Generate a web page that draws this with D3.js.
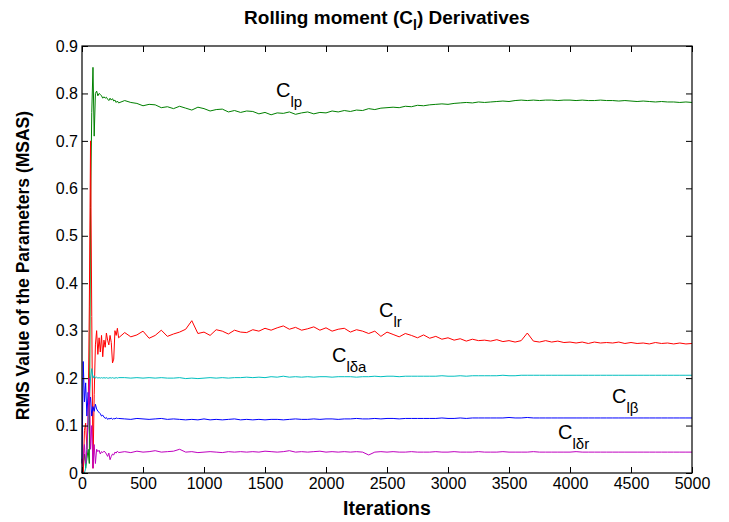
<!DOCTYPE html>
<html lang="en">
<head>
<meta charset="UTF-8">
<script src="https://d3js.org/d3.v7.min.js"></script>
<title>Rolling moment Derivatives</title>
<style>
    body { margin: 0; background: #fff; }
    svg text { font-family: "Liberation Sans", Arial, Helvetica, sans-serif; }
</style>
</head>
<body>
<svg id="chart" width="729" height="522"></svg>
<script>
// iterations: dense early part, then every 50
const iterEarly = d3.range(0, 301, 10);
const iterLate = d3.range(350, 5001, 50);

const clpEarly = [0.0, 0.02, 0.04, 0.01, 0.03, 0.05, 0.02, 0.56, 0.76, 0.855, 0.71, 0.80, 0.805, 0.795, 0.80, 0.798,
    0.795, 0.79, 0.793, 0.79, 0.792, 0.788, 0.785, 0.79, 0.786, 0.789, 0.784, 0.786, 0.781, 0.784, 0.78];
const clpLate = [
    0.785, 0.781, 0.779, 0.774, 0.777, 0.776, 0.770, 0.772, 0.768, 0.773,
    0.769, 0.765, 0.771, 0.768, 0.763, 0.766, 0.767, 0.761, 0.764, 0.760,
    0.763, 0.762, 0.757, 0.760, 0.755, 0.759, 0.758, 0.761, 0.756, 0.759,
    0.761, 0.757, 0.760, 0.759, 0.763, 0.761, 0.764, 0.762, 0.765, 0.764,
    0.768, 0.766, 0.769, 0.770, 0.771, 0.770, 0.773, 0.772, 0.775, 0.774,
    0.776, 0.777, 0.778, 0.777, 0.779, 0.780, 0.781, 0.780, 0.782, 0.781,
    0.782, 0.783, 0.784, 0.783, 0.785, 0.786, 0.785, 0.786, 0.785, 0.786,
    0.786, 0.785, 0.786, 0.786, 0.785, 0.786, 0.785, 0.785, 0.786, 0.785,
    0.785, 0.784, 0.785, 0.784, 0.783, 0.784, 0.783, 0.782, 0.783, 0.782,
    0.782, 0.781, 0.782, 0.781];

const clrEarly = [0.03, 0.0, 0.09, 0.105, 0.05, 0.11, 0.35, 0.70, 0.33, 0.01, 0.165, 0.27, 0.30, 0.25, 0.285, 0.255,
    0.29, 0.245, 0.28, 0.265, 0.295, 0.28, 0.27, 0.29, 0.275, 0.232, 0.24, 0.30, 0.29, 0.305, 0.285];
const clrLate = [
    0.296, 0.287, 0.291, 0.299, 0.284, 0.290, 0.301, 0.288, 0.293, 0.297,
    0.303, 0.321, 0.294, 0.297, 0.290, 0.302, 0.299, 0.293, 0.301, 0.297,
    0.296, 0.302, 0.299, 0.305, 0.301, 0.306, 0.310, 0.303, 0.307, 0.301,
    0.304, 0.308, 0.301, 0.306, 0.299, 0.303, 0.305, 0.297, 0.302, 0.299,
    0.294, 0.299, 0.288, 0.297, 0.292, 0.287, 0.294, 0.290, 0.285, 0.291,
    0.284, 0.288, 0.282, 0.285, 0.280, 0.283, 0.278, 0.282, 0.279, 0.280,
    0.278, 0.281, 0.277, 0.279, 0.276, 0.279, 0.295, 0.278, 0.276, 0.279,
    0.276, 0.278, 0.275, 0.276, 0.274, 0.276, 0.273, 0.276, 0.274, 0.275,
    0.274, 0.276, 0.273, 0.275, 0.273, 0.274, 0.272, 0.275, 0.273, 0.274,
    0.272, 0.274, 0.272, 0.273];

const clDaEarly = [0.0, 0.0, 0.0, 0.01, 0.05, 0.10, 0.16, 0.20, 0.22, 0.20, 0.205, 0.20, 0.202, 0.20, 0.201, 0.20,
    0.201, 0.20, 0.201, 0.20, 0.201, 0.20, 0.20, 0.201, 0.20, 0.201, 0.20, 0.20, 0.201, 0.20, 0.201];
const clDaLate = [
    0.201, 0.200, 0.201, 0.200, 0.201, 0.200, 0.201, 0.200, 0.200, 0.201,
    0.199, 0.200, 0.199, 0.200, 0.201, 0.200, 0.201, 0.200, 0.201, 0.201,
    0.202, 0.201, 0.202, 0.201, 0.203, 0.202, 0.204, 0.202, 0.203, 0.202,
    0.203, 0.202, 0.203, 0.203, 0.202, 0.203, 0.203, 0.203, 0.202, 0.203,
    0.203, 0.204, 0.203, 0.204, 0.204, 0.203, 0.204, 0.204, 0.204, 0.204,
    0.204, 0.204, 0.205, 0.204, 0.204, 0.205, 0.204, 0.205, 0.205, 0.205,
    0.205, 0.205, 0.206, 0.205, 0.205, 0.206, 0.206, 0.206, 0.206, 0.206,
    0.206, 0.206, 0.206, 0.206, 0.206, 0.206, 0.206, 0.206, 0.206, 0.206,
    0.206, 0.206, 0.206, 0.206, 0.206, 0.206, 0.206, 0.206, 0.206, 0.206,
    0.206, 0.206, 0.206, 0.206];

const clbEarly = [0.02, 0.235, 0.15, 0.19, 0.12, 0.17, 0.145, 0.16, 0.12, 0.14, 0.13, 0.145, 0.135, 0.13, 0.128, 0.125,
    0.12, 0.122, 0.118, 0.115, 0.117, 0.113, 0.115, 0.114, 0.116, 0.113, 0.115, 0.114, 0.116, 0.115, 0.115];
const clbLate = [
    0.114, 0.113, 0.115, 0.114, 0.113, 0.114, 0.115, 0.113, 0.114, 0.113,
    0.112, 0.113, 0.112, 0.114, 0.112, 0.113, 0.112, 0.113, 0.114, 0.112,
    0.113, 0.112, 0.113, 0.112, 0.113, 0.113, 0.112, 0.113, 0.114, 0.113,
    0.113, 0.114, 0.113, 0.114, 0.114, 0.113, 0.114, 0.114, 0.115, 0.114,
    0.114, 0.115, 0.114, 0.115, 0.115, 0.114, 0.115, 0.115, 0.115, 0.115,
    0.115, 0.115, 0.116, 0.115, 0.115, 0.116, 0.115, 0.116, 0.116, 0.116,
    0.116, 0.116, 0.116, 0.117, 0.116, 0.116, 0.117, 0.116, 0.116, 0.116,
    0.116, 0.116, 0.116, 0.116, 0.116, 0.116, 0.116, 0.116, 0.116, 0.116,
    0.116, 0.116, 0.116, 0.116, 0.116, 0.116, 0.116, 0.116, 0.116, 0.116,
    0.116, 0.116, 0.116, 0.116];

const clDrEarly = [0.0, 0.03, 0.06, 0.02, 0.05, 0.12, 0.20, 0.05, 0.10, 0.01, 0.06, 0.02, 0.05, 0.045, 0.048, 0.04,
    0.045, 0.043, 0.046, 0.044, 0.04, 0.035, 0.042, 0.028, 0.035, 0.04, 0.038, 0.044, 0.042, 0.046, 0.043];
const clDrLate = [
    0.045, 0.043, 0.046, 0.044, 0.045, 0.047, 0.044, 0.045, 0.046, 0.050,
    0.044, 0.045, 0.043, 0.044, 0.045, 0.044, 0.043, 0.045, 0.044, 0.045,
    0.044, 0.045, 0.044, 0.046, 0.045, 0.044, 0.045, 0.047, 0.044, 0.045,
    0.044, 0.045, 0.046, 0.044, 0.045, 0.044, 0.045, 0.044, 0.045, 0.044,
    0.038, 0.044, 0.045, 0.044, 0.045, 0.044, 0.044, 0.045, 0.044, 0.044,
    0.044, 0.045, 0.044, 0.044, 0.045, 0.044, 0.044, 0.044, 0.045, 0.044,
    0.044, 0.044, 0.045, 0.044, 0.044, 0.044, 0.044, 0.045, 0.044, 0.044,
    0.044, 0.044, 0.044, 0.044, 0.045, 0.044, 0.044, 0.044, 0.044, 0.044,
    0.044, 0.044, 0.044, 0.044, 0.044, 0.044, 0.044, 0.044, 0.044, 0.044,
    0.044, 0.044, 0.044, 0.044];

const xTicks = [0, 500, 1000, 1500, 2000, 2500, 3000, 3500, 4000, 4500, 5000];
const yTicks = [0, 0.1, 0.2, 0.3, 0.4, 0.5, 0.6, 0.7, 0.8, 0.9];

const series = [
    { name: "lp", color: "#008000", early: clpEarly, late: clpLate, lx: 1590, ly: 0.7925 },
    { name: "lr", color: "#ff0000", early: clrEarly, late: clrLate, lx: 2434, ly: 0.3288 },
    { name: "lδa", color: "#00bfbf", early: clDaEarly, late: clDaLate, lx: 2049, ly: 0.234 },
    { name: "lβ", color: "#0000ff", early: clbEarly, late: clbLate, lx: 4344, ly: 0.1475 },
    { name: "lδr", color: "#bf00bf", early: clDrEarly, late: clDrLate, lx: 3902, ly: 0.0717 }
];

const svg = d3.select("#chart");
const margin = { top: 46, right: 37, bottom: 49, left: 82 };
const width = +svg.attr("width") - margin.left - margin.right,
    height = +svg.attr("height") - margin.top - margin.bottom;

const g = svg.append("g").attr("transform", `translate(${margin.left},${margin.top})`);

const x = d3.scaleLinear().domain([0, 5000]).range([0, width]);
const y = d3.scaleLinear().domain([0, 0.9]).range([height, 0]);

// lines
const line = d3.line().x(d => x(d[0])).y(d => y(d[1]));
series.forEach(s => {
    const pts = iterEarly.map((it, i) => [it, s.early[i]])
        .concat(iterLate.map((it, i) => [it, s.late[i]]));
    g.append("path")
        .datum(pts)
        .attr("fill", "none")
        .attr("stroke", s.color)
        .attr("stroke-width", 1)
        .attr("d", line);
});

// axes (ticks inward, box on all sides)
const tickFont = 16;
g.append("g")
    .attr("transform", `translate(0,${height})`)
    .call(d3.axisBottom(x).tickValues(xTicks).tickFormat(d3.format("d"))
        .tickSizeInner(-6).tickSizeOuter(0).tickPadding(5))
    .call(a => a.selectAll("text").attr("font-size", tickFont).attr("fill", "#000"));
g.append("g")
    .call(d3.axisLeft(y).tickValues(yTicks).tickFormat(d => d === 0 ? "0" : d3.format(".1f")(d))
        .tickSizeInner(-6).tickSizeOuter(0).tickPadding(4))
    .call(a => a.selectAll("text").attr("font-size", tickFont).attr("fill", "#000"));
g.append("g")
    .call(d3.axisTop(x).tickValues(xTicks).tickSizeInner(-6).tickSizeOuter(0).tickFormat(""));
g.append("g")
    .attr("transform", `translate(${width},0)`)
    .call(d3.axisRight(y).tickValues(yTicks).tickSizeInner(-6).tickSizeOuter(0).tickFormat(""));
g.selectAll(".domain").remove();
g.selectAll(".tick line").attr("stroke", "#000");

g.append("rect")
    .attr("width", width).attr("height", height)
    .attr("fill", "none").attr("stroke", "#000").attr("stroke-width", 1.2);

// curve labels
series.forEach(s => {
    const t = g.append("text")
        .attr("x", x(s.lx)).attr("y", y(s.ly))
        .attr("font-size", 20).attr("fill", "#000");
    t.append("tspan").text("C");
    t.append("tspan").attr("font-size", 15).attr("dy", 10).text(s.name);
});

// title
const title = svg.append("text")
    .attr("x", margin.left + width / 2).attr("y", 24)
    .attr("text-anchor", "middle")
    .attr("font-size", 19).attr("font-weight", "bold");
title.append("tspan").text("Rolling moment (C");
title.append("tspan").attr("font-size", 14).attr("dy", 6).text("l");
title.append("tspan").attr("dy", -6).text(") Derivatives");

svg.append("text")
    .attr("x", margin.left + width / 2).attr("y", 515)
    .attr("text-anchor", "middle")
    .attr("font-size", 19.5).attr("font-weight", "bold")
    .text("Iterations");

svg.append("text")
    .attr("transform", `translate(29,${margin.top + height / 2 + 6}) rotate(-90)`)
    .attr("text-anchor", "middle")
    .attr("font-size", 17.5).attr("font-weight", "bold")
    .text("RMS Value of the Parameters (MSAS)");
</script>
</body>
</html>
